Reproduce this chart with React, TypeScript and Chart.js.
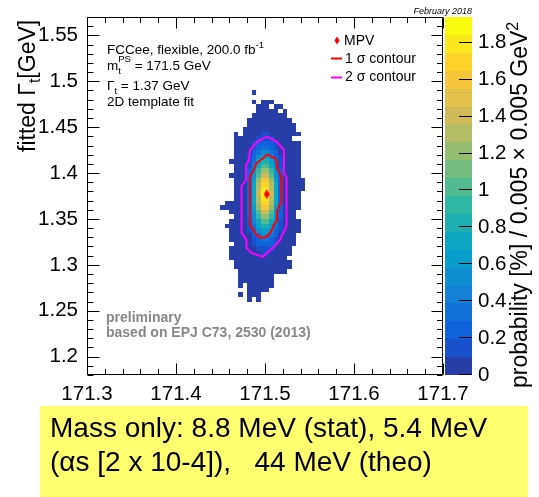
import React, { useEffect, useRef } from 'react';
import { Chart, registerables } from 'chart.js';

Chart.register(...registerables);

const FONT = "'Liberation Sans', Arial, Helvetica, sans-serif";

// ---- axes ----
const xRange = [171.3, 171.7];
const yRange = [1.18, 1.57];
const zRange = [0, 1.94];
const xTickValues = [171.3, 171.4, 171.5, 171.6, 171.7];
const yTickValues = [1.2, 1.25, 1.3, 1.35, 1.4, 1.45, 1.5, 1.55];
const zTickValues = [0, 0.2, 0.4, 0.6, 0.8, 1, 1.2, 1.4, 1.6, 1.8];

// ---- 2D histogram (probability [%] per 0.005 x 0.005 GeV^2 bin) ----
const massBin0 = 171.45; // lower edge of the first mass column
const widthBin0 = 1.49; // upper edge of the first width row
const binSize = 0.005;
const nBands = 20;
// one string per width row (top -> bottom), one char per mass column;
// '.' = empty bin, 0-9 / a-j = colour band of the bin content
const probabilityRows = [
  '.......0.............',
  '.....................',
  '.......0.000.........',
  '........000.00.......',
  '........00000.0......',
  '.......00000000......',
  '......0000000000.....',
  '......00000000000....',
  '.....000000000000....',
  '...0.0000110000000...',
  '...0000011110000.....',
  '...000012222100000...',
  '...000012332100000...',
  '...000023553200000...',
  '...000125665210000...',
  '..0000136886310000...',
  '...000147aa7410000...',
  '...000259cc9520000...',
  '..000025aeea520000...',
  '...00026cggc6200000..',
  '...00027dhhd7200000..',
  '...00027diid7200000..',
  '...00027ejje720000...',
  '...00027diid720000...',
  '.0000027dhhd720000...',
  '00000026cggc620000...',
  '..000025aeea52000....',
  '...000259cc952000....',
  '..0000147aa7410000...',
  '.00000136886310000...',
  '..0000125665210000...',
  '..000002355320000....',
  '..000001233210000....',
  '...00001222210000....',
  '..00000011110000.....',
  '..00000001100000.....',
  '..0000000000000......',
  '...0000000000000.....',
  '...0000000000000.....',
  '....00000000000......',
  '....00000000.........',
  '....00000000.........',
  '....0.000000.........',
  '......00000..........',
  '....0.000............',
  '......0.0............',
];

// ---- contours ----
const sigma1X = [171.5019, 171.5056, 171.5112, 171.5135, 171.5135, 171.5169, 171.518, 171.5185, 171.5152, 171.5135, 171.5135, 171.5096, 171.5079, 171.5039, 171.5, 171.4944, 171.4904, 171.4871, 171.4831, 171.4831, 171.4888, 171.4904, 171.4983, 171.5019];
const sigma1Y = [1.4203, 1.4188, 1.416, 1.412, 1.4054, 1.4, 1.3957, 1.3685, 1.363, 1.3576, 1.3478, 1.3435, 1.338, 1.3326, 1.3299, 1.3299, 1.3326, 1.338, 1.3435, 1.3957, 1.4065, 1.4109, 1.4163, 1.4203];
const sigma2X = [171.5019, 171.5079, 171.5135, 171.5213, 171.5213, 171.5242, 171.5242, 171.5225, 171.5191, 171.5169, 171.509, 171.5, 171.4978, 171.4848, 171.4792, 171.4792, 171.4736, 171.4736, 171.4787, 171.4787, 171.482, 171.4831, 171.491, 171.4963, 171.5019];
const sigma2Y = [1.4395, 1.437, 1.4337, 1.425, 1.4011, 1.3946, 1.3435, 1.338, 1.3326, 1.3272, 1.3185, 1.3109, 1.3087, 1.313, 1.3185, 1.3272, 1.3348, 1.3859, 1.3924, 1.4087, 1.4141, 1.425, 1.4337, 1.437, 1.4395];
const mpvX = [171.502];
const mpvY = [1.377];

// ---- ROOT kBird palette ----
const birdStops = [0, 0.125, 0.25, 0.375, 0.5, 0.625, 0.75, 0.875, 1];
const birdR = [0.2082, 0.0592, 0.078, 0.0232, 0.1802, 0.5301, 0.8186, 0.9956, 0.9764];
const birdG = [0.1664, 0.3599, 0.5041, 0.6419, 0.7178, 0.7492, 0.7328, 0.7862, 0.9832];
const birdB = [0.5293, 0.8684, 0.8385, 0.7914, 0.6425, 0.4662, 0.3499, 0.1968, 0.0539];

function bird(t: number): string {
  let k = 0;
  while (k < birdStops.length - 2 && t > birdStops[k + 1]) k++;
  const f = (t - birdStops[k]) / (birdStops[k + 1] - birdStops[k]);
  const c = (a: number[]) => Math.round(255 * (a[k] + (a[k + 1] - a[k]) * f));
  return `rgb(${c(birdR)},${c(birdG)},${c(birdB)})`;
}
const bandColours: string[] = [];
for (let i = 0; i < nBands; i++) {
  bandColours.push(bird(Math.floor(((i + 0.99) * 255) / nBands) / 254));
}

function fmt(v: number) {
  return String(+v.toFixed(3));
}

function noPad(s: any) {
  s.paddingTop = 0;
  s.paddingBottom = 0;
  s.paddingLeft = 0;
  s.paddingRight = 0;
}

const heatmapPlugin = {
  id: 'heatmap',
  beforeDatasetsDraw(chart: any) {
    const { ctx, scales } = chart;
    const x = scales.x;
    const y = scales.y;
    ctx.save();
    probabilityRows.forEach((row, r) => {
      const top = widthBin0 - r * binSize;
      const py0 = Math.round(y.getPixelForValue(top));
      const py1 = Math.round(y.getPixelForValue(top - binSize));
      for (let c = 0; c < row.length; c++) {
        const ch = row[c];
        if (ch === '.') continue;
        const band = parseInt(ch, 20);
        const px0 = Math.round(x.getPixelForValue(massBin0 + c * binSize));
        const px1 = Math.round(x.getPixelForValue(massBin0 + (c + 1) * binSize));
        ctx.fillStyle = bandColours[band];
        ctx.fillRect(px0, py0, px1 - px0, py1 - py0);
      }
    });
    ctx.restore();
  },
};

const framePlugin = {
  id: 'frame',
  afterDatasetsDraw(chart: any) {
    const { ctx, chartArea, scales } = chart;
    const { x, y, z } = scales;
    const L = Math.round(chartArea.left) + 0.5;
    const R = Math.round(chartArea.right) - 0.5;
    const T = Math.round(chartArea.top) + 0.5;
    const B = Math.round(chartArea.bottom) - 0.5;
    ctx.save();
    // colour bar
    const cx0 = Math.round(chartArea.right) + 2;
    const cx1 = Math.round(chartArea.right) + 29;
    for (let b = 0; b < nBands; b++) {
      const y0 = Math.round(z.getPixelForValue((b * zRange[1]) / nBands));
      const y1 = Math.round(z.getPixelForValue(((b + 1) * zRange[1]) / nBands));
      ctx.fillStyle = bandColours[b];
      ctx.fillRect(cx0, y1, cx1 - cx0, y0 - y1);
    }
    ctx.strokeStyle = '#000';
    ctx.lineWidth = 1;
    ctx.beginPath();
    zTickValues.forEach((v) => {
      const py = Math.round(z.getPixelForValue(v)) - 0.5;
      ctx.moveTo(cx1, py);
      ctx.lineTo(cx1 - 13, py);
    });
    ctx.stroke();
    // frame
    ctx.beginPath();
    ctx.rect(L, T, R - L, B - T);
    for (let i = 0; i <= 20; i++) {
      const v = xRange[0] + i * 0.02;
      const px = Math.round(x.getPixelForValue(v)) + 0.5;
      const len = i % 5 === 0 ? 11 : 5.5;
      ctx.moveTo(px, B);
      ctx.lineTo(px, B - len);
      ctx.moveTo(px, T);
      ctx.lineTo(px, T + len);
    }
    for (let i = 0; i <= 39; i++) {
      const v = yRange[0] + i * 0.01;
      const py = Math.round(y.getPixelForValue(v)) + 0.5;
      const major = Math.round(v * 100) % 5 === 0;
      const len = major ? 12 : 6;
      ctx.moveTo(L, py);
      ctx.lineTo(L + len, py);
      ctx.moveTo(R, py);
      ctx.lineTo(R - (major ? 11 : 5.5), py);
    }
    ctx.stroke();
    ctx.restore();
  },
};

type Part = { t: string; size: number; dy?: number; bold?: boolean; italic?: boolean };
function drawParts(ctx: CanvasRenderingContext2D, x: number, y: number, parts: Part[]) {
  let cx = x;
  parts.forEach((p) => {
    ctx.font = `${p.italic ? 'italic ' : ''}${p.bold ? 'bold ' : ''}${p.size}px ${FONT}`;
    ctx.fillText(p.t, cx, y + (p.dy || 0));
    cx += ctx.measureText(p.t).width;
  });
  return cx;
}

const textPlugin = {
  id: 'texts',
  afterDraw(chart: any) {
    const ctx: CanvasRenderingContext2D = chart.ctx;
    ctx.save();
    ctx.fillStyle = '#000';
    ctx.textBaseline = 'alphabetic';
    ctx.textAlign = 'left';
    const fs = 13.5;
    const ss = 9.5;
    drawParts(ctx, 107, 53.5, [
      { t: 'FCCee, flexible, 200.0 fb', size: fs },
      { t: '-1', size: ss, dy: -6 },
    ]);
    ctx.font = `${fs}px ${FONT}`;
    ctx.fillText('m', 107, 69.5);
    const mx = 107 + ctx.measureText('m').width;
    ctx.font = `${ss}px ${FONT}`;
    ctx.fillText('t', mx, 73.5);
    ctx.fillText('PS', mx, 62);
    const psw = ctx.measureText('PS').width;
    ctx.font = `${fs}px ${FONT}`;
    ctx.fillText(' = 171.5 GeV', mx + psw, 69.5);
    drawParts(ctx, 107, 89.5, [
      { t: 'Γ', size: fs },
      { t: 't', size: ss, dy: 4 },
      { t: ' = 1.37 GeV', size: fs },
    ]);
    ctx.font = `${fs}px ${FONT}`;
    ctx.fillText('2D template fit', 107, 106);

    // legend
    ctx.fillStyle = '#ff0000';
    ctx.beginPath();
    ctx.moveTo(337, 36.5);
    ctx.lineTo(339.5, 40.5);
    ctx.lineTo(337, 44.5);
    ctx.lineTo(334.5, 40.5);
    ctx.closePath();
    ctx.fill();
    ctx.lineWidth = 2;
    ctx.strokeStyle = '#ff0000';
    ctx.beginPath();
    ctx.moveTo(331, 58.5);
    ctx.lineTo(342, 58.5);
    ctx.stroke();
    ctx.strokeStyle = '#ff00ff';
    ctx.beginPath();
    ctx.moveTo(331, 77.5);
    ctx.lineTo(342, 77.5);
    ctx.stroke();
    ctx.fillStyle = '#000';
    ctx.font = `14px ${FONT}`;
    ctx.fillText('MPV', 344, 44.5);
    ctx.fillText('1 σ contour', 345, 62.5);
    ctx.fillText('2 σ contour', 345, 81);

    // preliminary
    ctx.fillStyle = '#888888';
    ctx.font = `bold 14px ${FONT}`;
    ctx.fillText('preliminary', 106, 322);
    ctx.fillText('based on EPJ C73, 2530 (2013)', 106, 337);

    // date
    ctx.fillStyle = '#000';
    ctx.font = `italic 9px ${FONT}`;
    ctx.textAlign = 'right';
    ctx.fillText('February 2018', 472, 14);
    ctx.textAlign = 'left';

    // y title
    ctx.save();
    ctx.translate(34.5, 152);
    ctx.rotate(-Math.PI / 2);
    drawParts(ctx, 0, 0, [
      { t: 'fitted Γ', size: 23 },
      { t: 't', size: 16, dy: 5 },
      { t: '[GeV]', size: 23 },
    ]);
    ctx.restore();

    // z title
    ctx.save();
    ctx.translate(527, 388);
    ctx.rotate(-Math.PI / 2);
    drawParts(ctx, 0, 0, [
      { t: 'probability [%] / 0.005 × 0.005 GeV', size: 23 },
      { t: '2', size: 16, dy: -9 },
    ]);
    ctx.restore();

    // yellow note
    ctx.fillStyle = 'rgb(255,255,112)';
    ctx.fillRect(40, 406, 488, 91);
    ctx.fillStyle = '#000';
    ctx.font = `28px ${FONT}`;
    ctx.fillText('Mass only: 8.8 MeV (stat), 5.4 MeV', 50, 437);
    ctx.fillText('(αs [2 x 10-4]),   44 MeV (theo)', 50, 471);
    ctx.restore();
  },
};

export default function App() {
  const ref = useRef<HTMLCanvasElement>(null);
  useEffect(() => {
    const canvas = ref.current;
    if (!canvas) return;
    Chart.defaults.font.family = FONT;
    Chart.defaults.color = '#000';

    const mpvImg = document.createElement('canvas');
    mpvImg.width = 7;
    mpvImg.height = 11;
    const mc = mpvImg.getContext('2d')!;
    mc.fillStyle = '#ff0000';
    mc.beginPath();
    mc.moveTo(3.5, 0.5);
    mc.lineTo(6.5, 5.5);
    mc.lineTo(3.5, 10.5);
    mc.lineTo(0.5, 5.5);
    mc.closePath();
    mc.fill();

    const tickFont = { size: 20.5, family: FONT };
    const chart = new Chart(canvas, {
      type: 'scatter',
      data: {
        datasets: [
          {
            label: 'MPV',
            data: mpvX.map((x, i) => ({ x, y: mpvY[i] })),
            pointStyle: mpvImg as any,
            pointRadius: 4,
          },
          {
            label: '1 sigma',
            data: sigma1X.map((x, i) => ({ x, y: sigma1Y[i] })),
            showLine: true,
            borderColor: '#ff0000',
            borderWidth: 2,
            pointRadius: 0,
            fill: false,
          },
          {
            label: '2 sigma',
            data: sigma2X.map((x, i) => ({ x, y: sigma2Y[i] })),
            showLine: true,
            borderColor: '#ff00ff',
            borderWidth: 2,
            pointRadius: 0,
            fill: false,
          },
        ],
      },
      options: {
        animation: false,
        responsive: false,
        devicePixelRatio: 1,
        events: [],
        layout: { autoPadding: false, padding: { top: 17, left: 0, right: 0, bottom: 0 } },
        plugins: { legend: { display: false }, tooltip: { enabled: false } },
        scales: {
          x: {
            type: 'linear',
            position: 'bottom',
            min: xRange[0],
            max: xRange[1],
            grid: { display: false, drawTicks: false },
            border: { display: false },
            afterBuildTicks: (s: any) => {
              s.ticks = xTickValues.map((value) => ({ value }));
            },
            afterFit: (s: any) => {
              s.height = 122;
              noPad(s);
            },
            ticks: { font: tickFont, color: '#000', padding: 7, maxRotation: 0, autoSkip: false, callback: (v: any) => fmt(+v) },
          },
          y: {
            type: 'linear',
            position: 'left',
            min: yRange[0],
            max: yRange[1],
            grid: { display: false, drawTicks: false },
            border: { display: false },
            afterBuildTicks: (s: any) => {
              s.ticks = yTickValues.map((value) => ({ value }));
            },
            afterFit: (s: any) => {
              s.width = 87;
              noPad(s);
            },
            ticks: { font: tickFont, color: '#000', padding: 9, autoSkip: false, callback: (v: any) => fmt(+v) },
          },
          z: {
            type: 'linear',
            axis: 'y',
            position: 'right',
            min: zRange[0],
            max: zRange[1],
            grid: { display: false, drawTicks: false },
            border: { display: false },
            afterBuildTicks: (s: any) => {
              s.ticks = zTickValues.map((value) => ({ value }));
            },
            afterFit: (s: any) => {
              s.width = 96;
              noPad(s);
            },
            ticks: { font: tickFont, color: '#000', padding: 35, autoSkip: false, callback: (v: any) => fmt(+v) },
          },
        } as any,
      },
      plugins: [heatmapPlugin, framePlugin, textPlugin],
    });
    return () => chart.destroy();
  }, []);
  return (
    <div style={{ position: 'absolute', left: 0, top: 0, width: 539, height: 497, background: '#fff' }}>
      <canvas ref={ref} width={539} height={497} style={{ display: 'block', width: 539, height: 497 }} />
    </div>
  );
}
